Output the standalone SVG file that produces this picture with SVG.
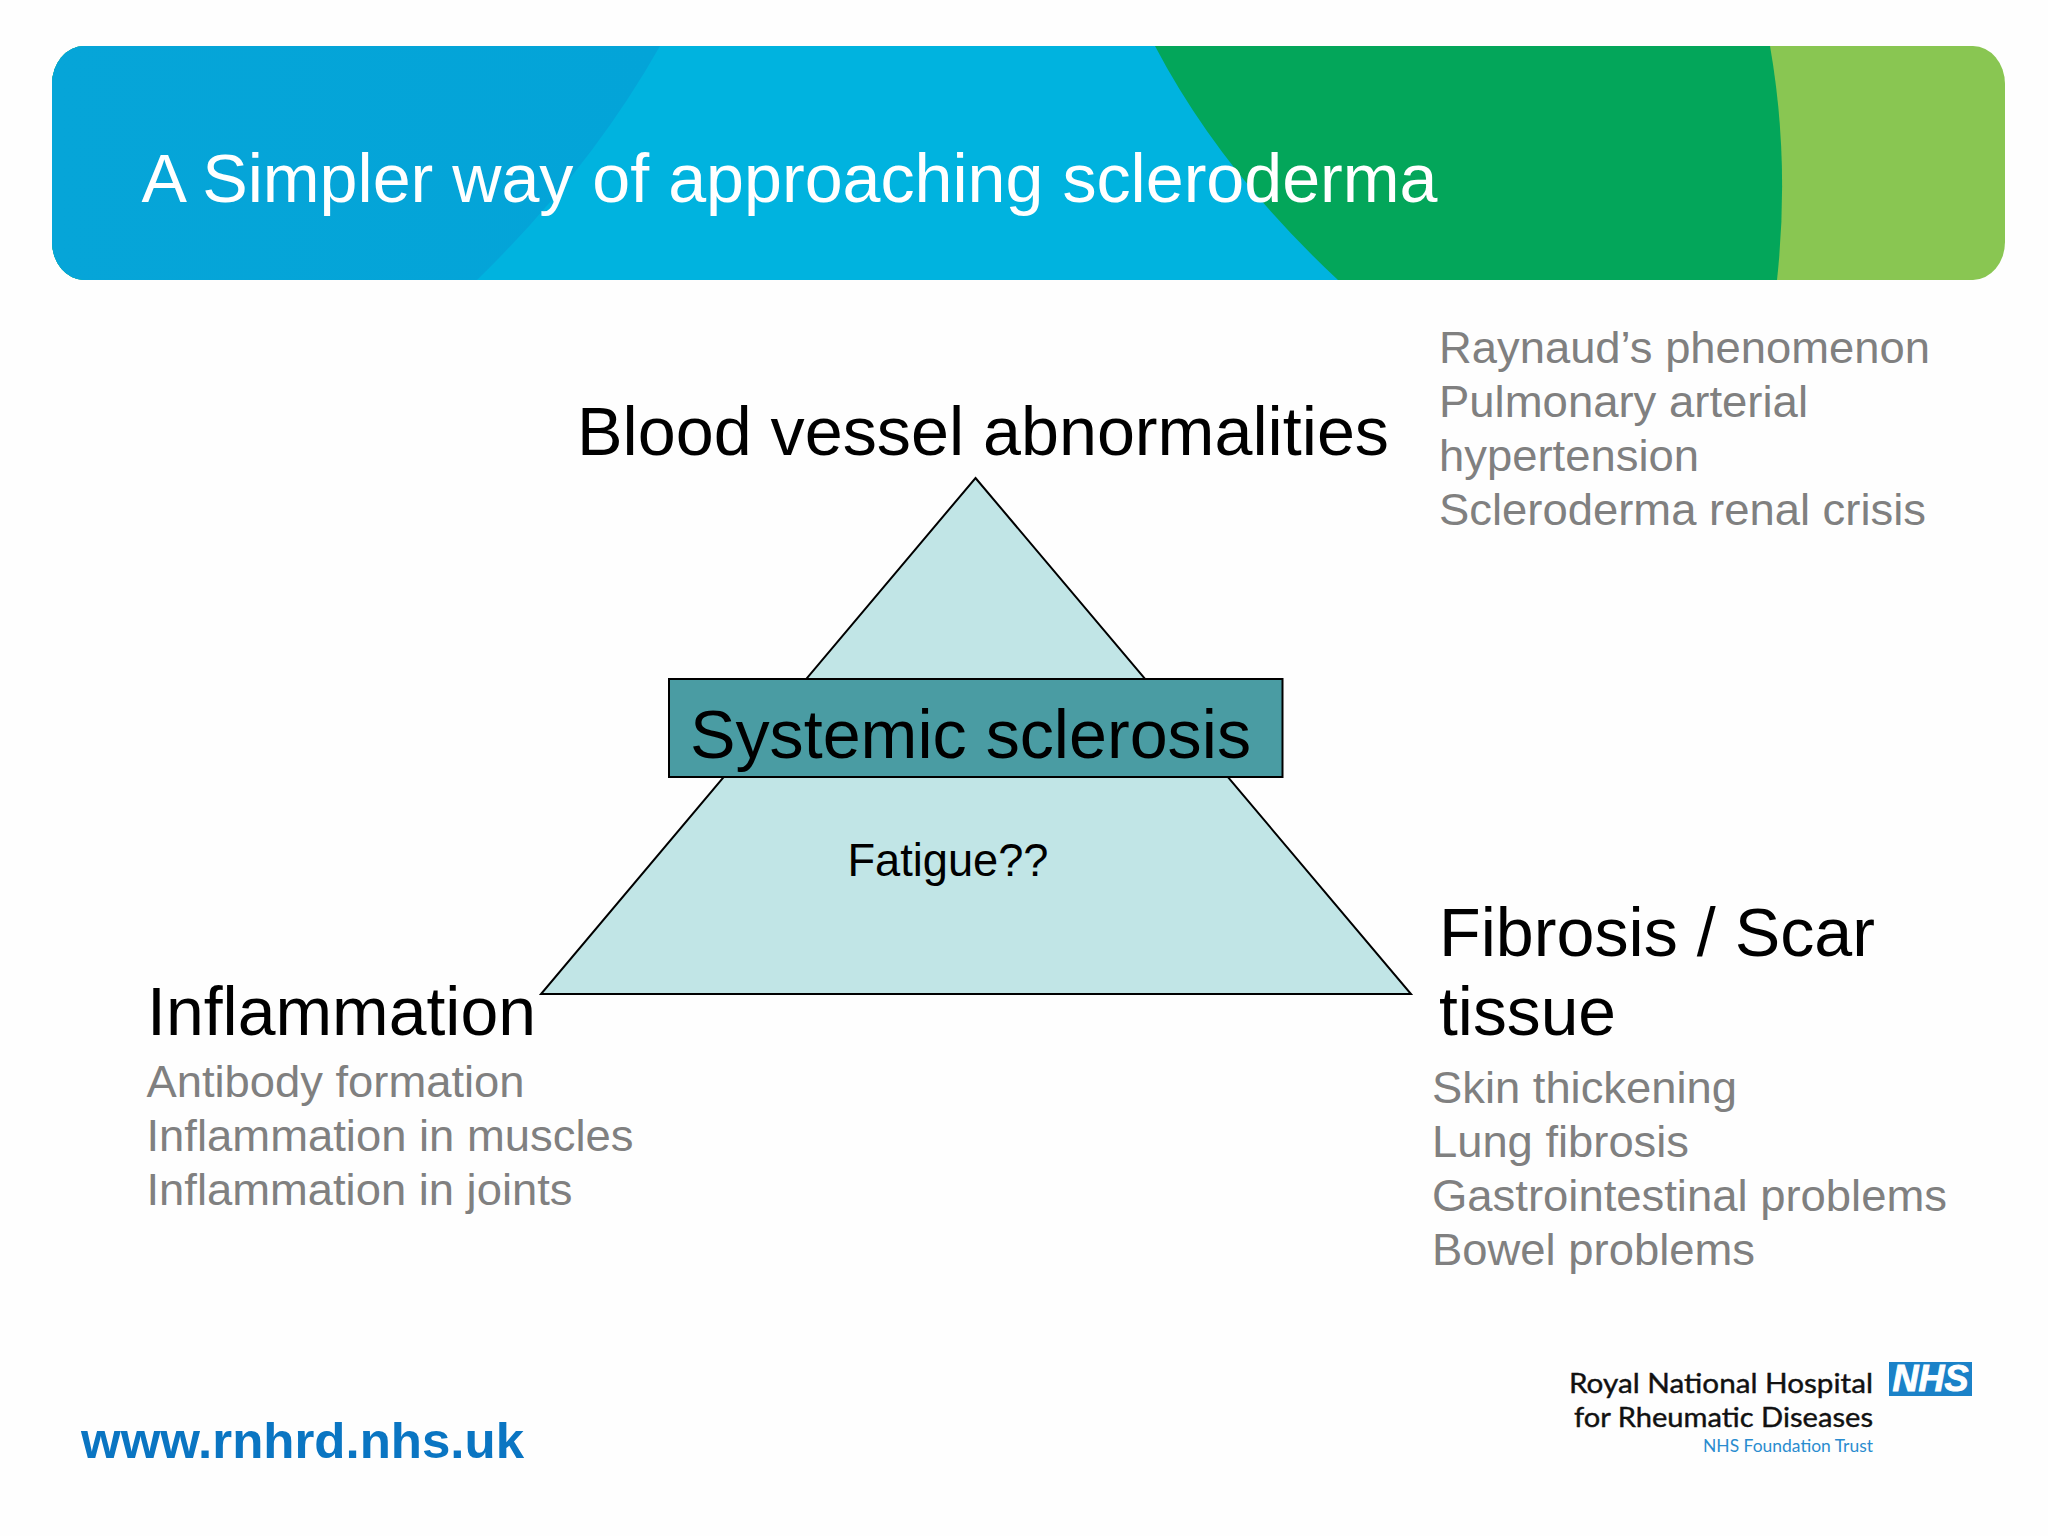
<svg xmlns="http://www.w3.org/2000/svg" width="2048" height="1536" viewBox="0 0 2048 1536">
<defs>
<clipPath id="bannerClip"><rect x="52" y="46" width="1953" height="234" rx="32" ry="38"/></clipPath>
<linearGradient id="darkBlue" x1="0" y1="0" x2="1" y2="0"><stop offset="0" stop-color="#06a5d8"/><stop offset="1" stop-color="#03a4d8"/></linearGradient>
</defs>
<style>
text{font-family:"Liberation Sans",Arial,sans-serif}
.head{font-size:68px;fill:#000}
.sub{font-size:45px;fill:#808080}
.logo{font-family:Lato,"Noto Sans",sans-serif;fill:#111;font-size:27px;text-anchor:end;stroke:#111;stroke-width:.4px}
</style>
<rect width="2048" height="1536" fill="#fefefe"/>
<g id="banner">
<g clip-path="url(#bannerClip)">
<rect x="52" y="46" width="1953" height="234" fill="#89c652"/>
<path d="M52 46H1770Q1790 160 1777 280H52Z" fill="#03a65a"/>
<path d="M52 46H1155Q1220 170 1338 280H52Z" fill="#00b3df"/>
<path d="M52 46H660Q590 170 477 280H52Z" fill="url(#darkBlue)"/>
</g>
<text x="141.500" y="202" font-size="68" fill="#fff" textLength="1296" lengthAdjust="spacingAndGlyphs">A Simpler way of approaching scleroderma</text>
</g>
<g id="connectors"></g>
<g id="triangle"><polygon points="975.5,478 1411,994 541,994" fill="#c1e5e6" stroke="#000" stroke-width="2"/>
<text x="847.500" y="876" font-size="47" fill="#000" textLength="201" lengthAdjust="spacingAndGlyphs">Fatigue??</text></g>
<g id="systemic"><rect x="669" y="679" width="613.500" height="98" fill="#4a9ca3" stroke="#000" stroke-width="2"/>
<text class="head" x="690" y="758" textLength="561" lengthAdjust="spacingAndGlyphs">Systemic sclerosis</text></g>
<g id="blood"><text class="head" x="577" y="455" textLength="812" lengthAdjust="spacingAndGlyphs">Blood vessel abnormalities</text>
<text class="sub" x="1439" y="363" textLength="491" lengthAdjust="spacingAndGlyphs">Raynaud’s phenomenon</text>
<text class="sub" x="1439" y="417" textLength="369" lengthAdjust="spacingAndGlyphs">Pulmonary arterial</text>
<text class="sub" x="1439" y="471" textLength="260" lengthAdjust="spacingAndGlyphs">hypertension</text>
<text class="sub" x="1439" y="525" textLength="487" lengthAdjust="spacingAndGlyphs">Scleroderma renal crisis</text></g>
<g id="inflammation"><text class="head" x="147" y="1035" textLength="389" lengthAdjust="spacingAndGlyphs">Inflammation</text>
<text class="sub" x="146.500" y="1097" textLength="378" lengthAdjust="spacingAndGlyphs">Antibody formation</text>
<text class="sub" x="146.500" y="1151" textLength="487" lengthAdjust="spacingAndGlyphs">Inflammation in muscles</text>
<text class="sub" x="146.500" y="1205" textLength="426" lengthAdjust="spacingAndGlyphs">Inflammation in joints</text></g>
<g id="fibrosis"><text class="head" x="1439" y="956" textLength="436" lengthAdjust="spacingAndGlyphs">Fibrosis / Scar</text>
<text class="head" x="1439" y="1035" textLength="177" lengthAdjust="spacingAndGlyphs">tissue</text>
<text class="sub" x="1432" y="1103" textLength="305" lengthAdjust="spacingAndGlyphs">Skin thickening</text>
<text class="sub" x="1432" y="1157" textLength="257" lengthAdjust="spacingAndGlyphs">Lung fibrosis</text>
<text class="sub" x="1432" y="1211" textLength="515" lengthAdjust="spacingAndGlyphs">Gastrointestinal problems</text>
<text class="sub" x="1432" y="1265" textLength="323" lengthAdjust="spacingAndGlyphs">Bowel problems</text></g>
<g id="website"><text x="81" y="1458" font-size="50" font-weight="700" fill="#0a75c2" textLength="443" lengthAdjust="spacingAndGlyphs">www.rnhrd.nhs.uk</text></g>
<g id="logo">
<text class="logo" x="1873" y="1393" textLength="304" lengthAdjust="spacingAndGlyphs">Royal National Hospital</text>
<text class="logo" x="1873" y="1426.500" textLength="299" lengthAdjust="spacingAndGlyphs">for Rheumatic Diseases</text>
<text class="logo" x="1873" y="1452" style="font-size:17px;fill:#2a8ccf;stroke:none" textLength="170" lengthAdjust="spacingAndGlyphs">NHS Foundation Trust</text>
<rect x="1889" y="1362" width="83" height="34" fill="#1b82c8"/>
<text x="1930.500" y="1391" font-size="37" font-weight="700" font-style="italic" fill="#fff" stroke="#fff" stroke-width="1" text-anchor="middle" textLength="76" lengthAdjust="spacingAndGlyphs">NHS</text>
</g>
</svg>
